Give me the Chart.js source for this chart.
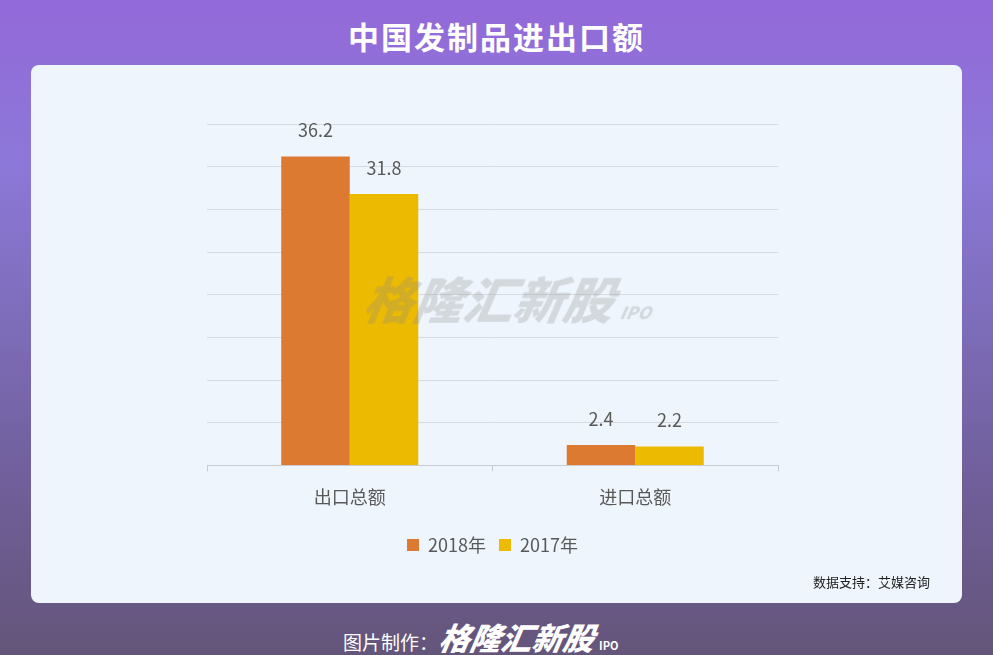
<!DOCTYPE html>
<html lang="zh">
<head>
<meta charset="utf-8">
<title>中国发制品进出口额</title>
<script src="https://cdn.jsdelivr.net/npm/chart.js@4.4.1/dist/chart.umd.min.js"></script>
<style>
    html, body {
        margin: 0;
        padding: 0;
        width: 993px;
        height: 655px;
        overflow: hidden;
    }
    body {
        position: relative;
        font-family: "Noto Sans CJK SC", "Noto Sans", sans-serif;
        background: linear-gradient(180deg, #9369d9 0%, #8c78d8 25%, #7d6cb8 50%, #6f5e98 75%, #64557a 100%);
    }
    .title {
        position: absolute;
        left: 0;
        top: 13px;
        width: 993px;
        text-align: center;
        color: #fff;
        font-size: 31px;
        font-weight: bold;
        letter-spacing: 2px;
    }
    .card {
        position: absolute;
        left: 31px;
        top: 65px;
        width: 931px;
        height: 538px;
        background: #eef5fc;
        border-radius: 8px;
    }
    #chartWrap {
        position: absolute;
        left: 0;
        top: 0;
        width: 931px;
        height: 538px;
    }
    .watermark {
        position: absolute;
        left: 334px;
        top: 196px;
        color: rgba(140, 140, 140, 0.28);
        font-size: 50px;
        font-weight: 900;
        font-style: italic;
        transform: skewX(-10deg);
        white-space: nowrap;
        pointer-events: none;
    }
    .watermark small {
        font-size: 17px;
        margin-left: 8px;
    }
    .source {
        position: absolute;
        right: 32px;
        bottom: 12px;
        font-size: 13px;
        color: #222;
    }
    .footer {
        position: absolute;
        left: 343px;
        top: 614px;
        color: #fff;
        white-space: nowrap;
    }
    .footer .lbl {
        font-size: 19px;
    }
    .footer .logo {
        font-size: 31px;
        font-weight: 900;
        font-style: italic;
        display: inline-block;
        transform: skewX(-10deg);
        margin-left: 2px;
    }
    .footer .ipo {
        font-size: 11px;
        font-weight: bold;
        margin-left: 4px;
    }
</style>
</head>
<body>
<div class="title">中国发制品进出口额</div>
<div class="card">
    <div id="chartWrap"><canvas id="tradeChart"></canvas></div>
    <div class="watermark">格隆汇新股<small>IPO</small></div>
    <div class="source">数据支持：艾媒咨询</div>
</div>
<div class="footer"><span class="lbl">图片制作：</span><span class="logo">格隆汇新股</span><span class="ipo">IPO</span></div>

<script>
// chart values (unit as in the source chart)
const categories = ["出口总额", "进口总额"];
const values2018 = [36.2, 2.4];
const values2017 = [31.8, 2.2];
const seriesNames = ["2018年", "2017年"];

document.addEventListener("DOMContentLoaded", function () {
    const ctx = document.getElementById("tradeChart").getContext("2d");

    // draws the value above every bar
    const valueLabels = {
        id: "valueLabels",
        afterDatasetsDraw(chart) {
            const c = chart.ctx;
            c.save();
            c.font = "18px 'Noto Sans CJK SC', sans-serif";
            c.fillStyle = "#595959";
            c.textAlign = "center";
            c.textBaseline = "bottom";
            chart.data.datasets.forEach((ds, i) => {
                chart.getDatasetMeta(i).data.forEach((bar, j) => {
                    c.fillText(ds.data[j].toFixed(1), bar.x, bar.y - 17);
                });
            });
            c.restore();
        }
    };

    new Chart(ctx, {
        type: "bar",
        data: {
            labels: categories,
            datasets: [
                {
                    label: seriesNames[0],
                    data: values2018,
                    backgroundColor: "#dd7a31",
                },
                {
                    label: seriesNames[1],
                    data: values2017,
                    backgroundColor: "#ecba00",
                },
            ],
        },
        options: {
            responsive: true,
            maintainAspectRatio: false,
            animation: false,
            layout: {
                padding: { left: 176, right: 184, top: 59, bottom: 39 },
            },
            datasets: {
                bar: { categoryPercentage: 0.48, barPercentage: 1.0 },
            },
            scales: {
                x: {
                    grid: {
                        display: true,
                        drawOnChartArea: false,
                        drawTicks: true,
                        tickLength: 6,
                        color: "#c8ccd0",
                    },
                    border: { color: "#c8ccd0" },
                    ticks: {
                        color: "#595959",
                        padding: 15,
                        font: { size: 18, family: "'Noto Sans CJK SC', sans-serif" },
                    },
                },
                y: {
                    min: 0,
                    max: 40,
                    ticks: { display: false, stepSize: 5 },
                    grid: { color: "#d6dadf", drawTicks: false },
                    border: { display: false },
                },
            },
            plugins: {
                legend: {
                    position: "bottom",
                    labels: {
                        boxWidth: 12,
                        boxHeight: 12,
                        padding: 13,
                        color: "#595959",
                        font: { size: 18, family: "'Noto Sans CJK SC', sans-serif" },
                    },
                },
                tooltip: { enabled: false },
            },
        },
        plugins: [valueLabels],
    });
});
</script>
</body>
</html>
